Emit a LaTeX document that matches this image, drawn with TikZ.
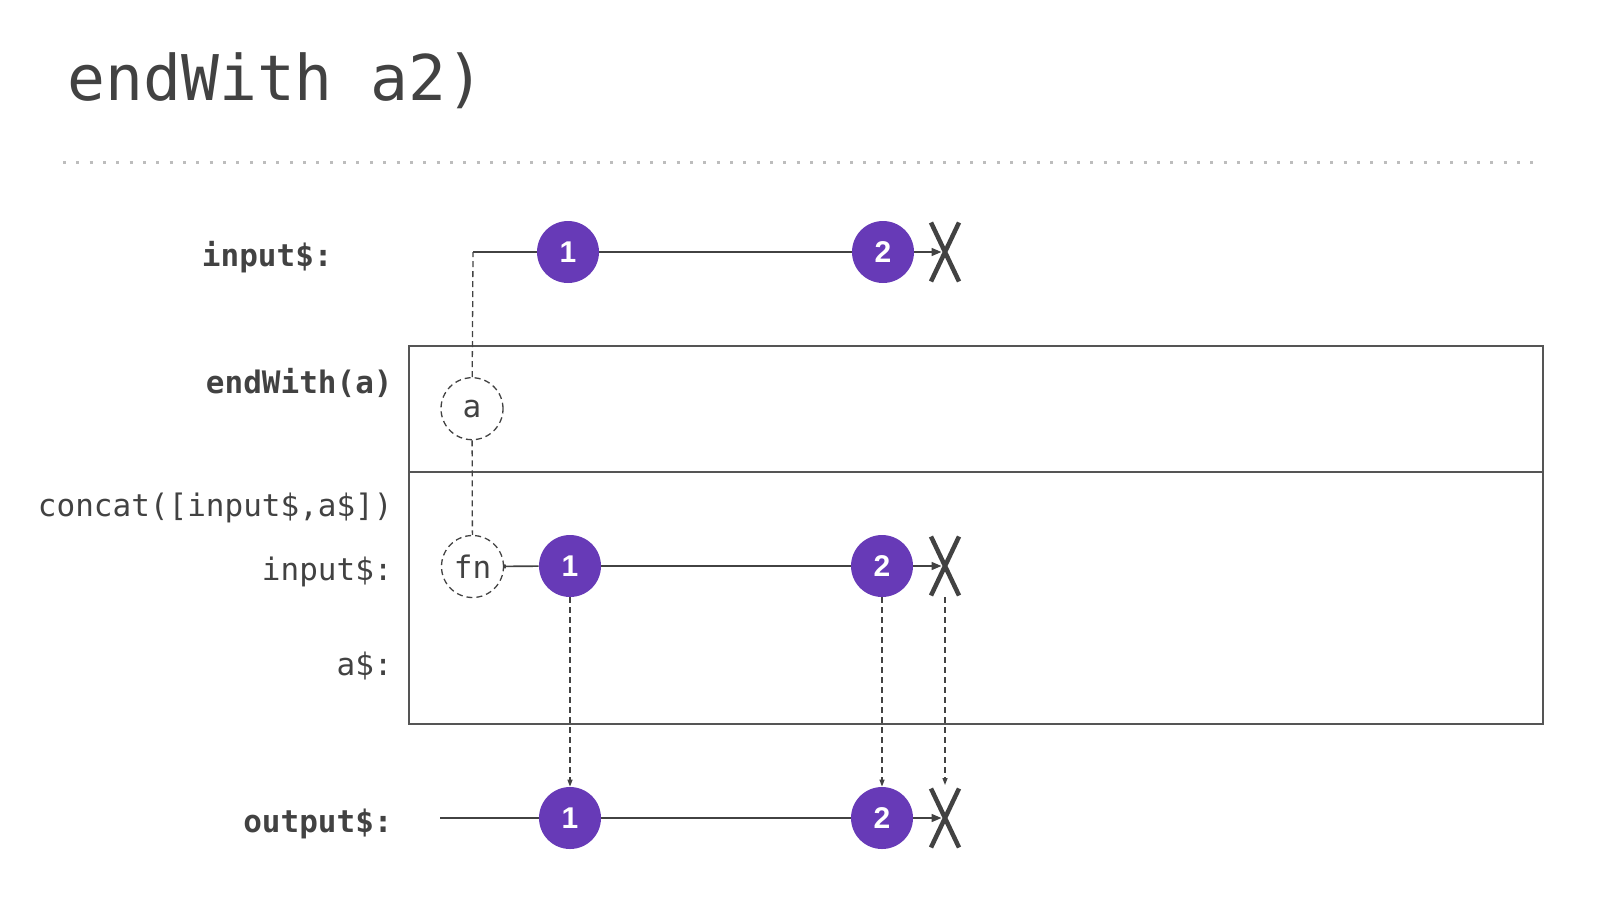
\documentclass[tikz,border=0pt]{standalone}
\usepackage{fontspec}
\setmainfont{Liberation Sans}
\setmonofont{DejaVu Sans Mono}
\usetikzlibrary{calc,positioning,arrows.meta}
\definecolor{marble}{HTML}{673AB7}
\definecolor{ink}{HTML}{424242}
\definecolor{dotgray}{HTML}{BDBDBD}

\begin{document}
\begin{tikzpicture}[x=0.5pt,y=-0.5pt,font=\ttfamily\fontsize{15.5}{18}\selectfont]

\tikzset{
val/.style={circle,fill=marble,text=white,minimum size=31pt,inner sep=0pt,font=\rmfamily\bfseries\fontsize{15}{17}\selectfont},
ghost/.style={circle,draw=ink,line width=0.65pt,dash pattern=on 3pt off 2pt,minimum size=31pt,inner sep=0pt,text=ink},
lbl/.style={anchor=base east,inner sep=0pt,text=ink},
lblb/.style={lbl,font=\ttfamily\bfseries\fontsize{15.5}{18}\selectfont},
timeline/.style={draw=ink,line width=0.8pt},
finish/.style={timeline,-{Triangle[length=5pt,width=4pt]},shorten >=1.75pt},
xmark/.style={draw=ink,line width=2.25pt},
ghostline/.style={draw=ink,line width=0.65pt,dash pattern=on 3pt off 2pt},
emit/.style={ghostline,-{Triangle[length=3.5pt,width=2.5pt]}},
frame/.style={draw=ink!90,line width=1pt}
}

\useasboundingbox (0,0) rectangle (1600,900);

% Title
\node[anchor=base west,inner sep=0pt,text=ink,font=\ttfamily\fontsize{31.5}{36}\selectfont] (title) at (67,100) {endWith a2)};
\draw[dotgray,line width=1.5pt,dash pattern=on 1.5pt off 5.17pt] (63,162) -- (1543,162);

% Operator box
\coordinate (boxtl) at (409,346);
\coordinate (boxbr) at (1543,724);
\draw[frame] (boxtl) rectangle (boxbr);
\draw[frame] (409,472) -- (1543,472);

% Labels
\node[lblb] (labin) at (333,266.7) {input\$:};
\node[lblb] (labop) at (393,393) {endWith(a)};
\node[lbl] (labcat) at (393,516.7) {concat([input\$,a\$])};
\node[lbl] (labinner) at (393,580.7) {input\$:};
\node[lbl] (laba) at (393,675) {a\$:};
\node[lblb] (labout) at (393,832.7) {output\$:};

% Input stream
\coordinate (tstart) at (473,252);
\node[val] (t1) at (568,252) {1};
\node[val] (t2) at (883,252) {2};
\coordinate (tx) at (945,252);

% Inner streams
\node[ghost] (a) at (472,408.7) {a};
\node[ghost] (fn) at (472.5,566.5) {fn};
\node[val] (i1) at (570,566) {1};
\node[val] (i2) at (882,566) {2};
\coordinate (ix) at (945,566);

% Output stream
\coordinate (ostart) at (440,818);
\node[val] (o1) at (i1 |- ostart) {1};
\node[val] (o2) at (i2 |- ostart) {2};
\coordinate (ox) at (ix |- ostart);

% Lines
\draw[ghostline] (a) -- (tstart);
\draw[timeline] (tstart) -- (t1);
\draw[timeline] (t1) -- (t2);
\draw[finish] (t2) -- (tx);

\draw[ghostline] (a) -- (fn);
\draw[timeline,{Bar[width=2pt]}-] (fn) -- (i1);
\draw[timeline] (i1) -- (i2);
\draw[finish] (i2) -- (ix);

\draw[timeline] (ostart) -- (o1);
\draw[timeline] (o1) -- (o2);
\draw[finish] (o2) -- (ox);

% Completion marks
\draw[xmark] ($(tx)+(-14,-29.5)$) -- ($(tx)+(14,29.5)$) ($(tx)+(14,-29.5)$) -- ($(tx)+(-14,29.5)$);
\draw[xmark] ($(ix)+(-14,-29.5)$) -- ($(ix)+(14,29.5)$) ($(ix)+(14,-29.5)$) -- ($(ix)+(-14,29.5)$);
\draw[xmark] ($(ox)+(-14,-29.5)$) -- ($(ox)+(14,29.5)$) ($(ox)+(14,-29.5)$) -- ($(ox)+(-14,29.5)$);

% Emissions
\draw[emit] (i1) -- (o1);
\draw[emit] (i2) -- (o2);
\draw[emit,shorten <=15.5pt,shorten >=16.5pt] (ix) -- (ox);

\end{tikzpicture}
\end{document}
